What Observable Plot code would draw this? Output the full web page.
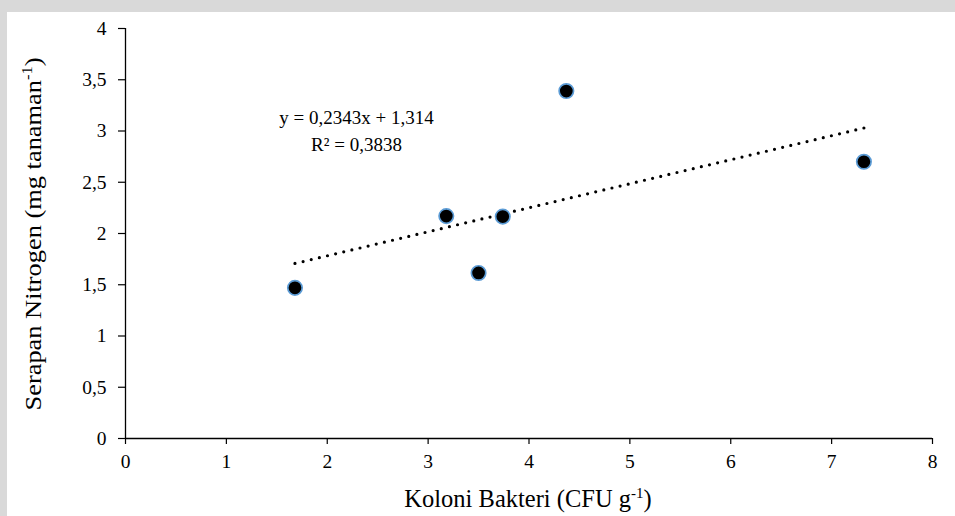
<!DOCTYPE html>
<html>
<head>
<meta charset="utf-8">
<script src="https://cdn.jsdelivr.net/npm/d3@7"></script>
<script src="https://cdn.jsdelivr.net/npm/@observablehq/plot@0.6"></script>
<style>
  html, body { margin: 0; padding: 0; }
  body { width: 955px; height: 516px; background: #d9d9d9; position: relative; overflow: hidden; }
  #panel { position: absolute; left: 7px; top: 12px; width: 948px; height: 504px; background: #ffffff; }
  #chart { position: absolute; left: 0; top: 0; }
  #chart svg text { font-family: 'Liberation Serif', 'Times New Roman', serif; }
</style>
</head>
<body>
<div id="panel"></div>
<div id="chart"></div>
<script>
// Data
const koloniBakteri = [1.68, 3.18, 3.50, 3.74, 4.37, 7.32];
const serapanNitrogen = [1.47, 2.17, 1.615, 2.165, 3.39, 2.70];
const xTicks = [0, 1, 2, 3, 4, 5, 6, 7, 8];
const yTicks = [0, 0.5, 1, 1.5, 2, 2.5, 3, 3.5, 4];
const trendSlope = 0.2343;
const trendIntercept = 1.314;
const equationText = "y = 0,2343x + 1,314\nR² = 0,3838";
const xTitle = "Koloni Bakteri (CFU g";
const yTitle = "Serapan Nitrogen (mg tanaman";
const titleSup = "-1";

const points = koloniBakteri.map((x, i) => ({x, y: serapanNitrogen[i]}));
const xMin = d3.min(koloniBakteri), xMax = d3.max(koloniBakteri);
const trend = [xMin, xMax].map(x => ({x, y: trendSlope * x + trendIntercept}));

const font = "'Liberation Serif', 'Times New Roman', serif";
const fmt = d => String(d).replace(".", ",");

const plot = Plot.plot({
  width: 955,
  height: 516,
  marginLeft: 125,
  marginRight: 23,
  marginTop: 28,
  marginBottom: 78,
  style: {background: "transparent", fontFamily: font, fontSize: "19.5px", color: "#000"},
  x: {domain: [0, 8]},
  y: {domain: [0, 4]},
  marks: [
    Plot.axisX({ticks: xTicks, tickSize: 6, tickPadding: 10, tickFormat: fmt, label: null, stroke: "#000", fill: "#000", strokeWidth: 1.2, fontFamily: font, fontSize: 19.5}),
    Plot.axisY({ticks: yTicks, tickSize: 7, tickPadding: 12, tickFormat: fmt, label: null, stroke: "#000", fill: "#000", strokeWidth: 1.2, fontFamily: font, fontSize: 19.5}),
    Plot.ruleY([0], {stroke: "#000", strokeWidth: 1.3}),
    Plot.ruleX([0], {stroke: "#000", strokeWidth: 1.3}),
    Plot.line(trend, {x: "x", y: "y", stroke: "#000", strokeWidth: 3.2, strokeDasharray: "0 8.4", strokeLinecap: "round", className: "trendline"}),
    Plot.dot(points, {x: "x", y: "y", r: 7.2, fill: "#000", stroke: "#5b9bd5", strokeWidth: 1.7}),
    Plot.text([equationText], {x: 2.29, y: 3.025, text: d => d, fontSize: 19, fontFamily: font, lineHeight: 1.42, textAnchor: "middle", lineAnchor: "middle", fill: "#000"})
  ]
});

document.getElementById("chart").appendChild(plot);

const svg = d3.select(plot);
// make the dotted trendline start and end on a dot
svg.selectAll(".trendline path").each(function() {
  const L = this.getTotalLength();
  const n = Math.max(1, Math.round(L / 8.4));
  d3.select(this).attr("stroke-dasharray", `0 ${L / n}`);
});

function addTitle(transform, main, size) {
  const t = svg.append("text")
    .attr("transform", transform)
    .attr("text-anchor", "start")
    .attr("font-family", font).attr("font-size", size).attr("fill", "#000");
  t.append("tspan").text(main);
  t.append("tspan").attr("dy", -9).attr("font-size", 15).text(titleSup);
  t.append("tspan").attr("dy", 9).text(")");
  const len = t.node().getComputedTextLength();
  t.attr("x", -len / 2);
  return t;
}
// X axis title (centred at x=528, baseline 507)
addTitle("translate(528,507)", xTitle, 24.5);
// Y axis title (rotated, centred at y=234, baseline x=41)
addTitle("translate(41,234) rotate(-90) scale(1.1,1)", yTitle, 24);
</script>
</body>
</html>
